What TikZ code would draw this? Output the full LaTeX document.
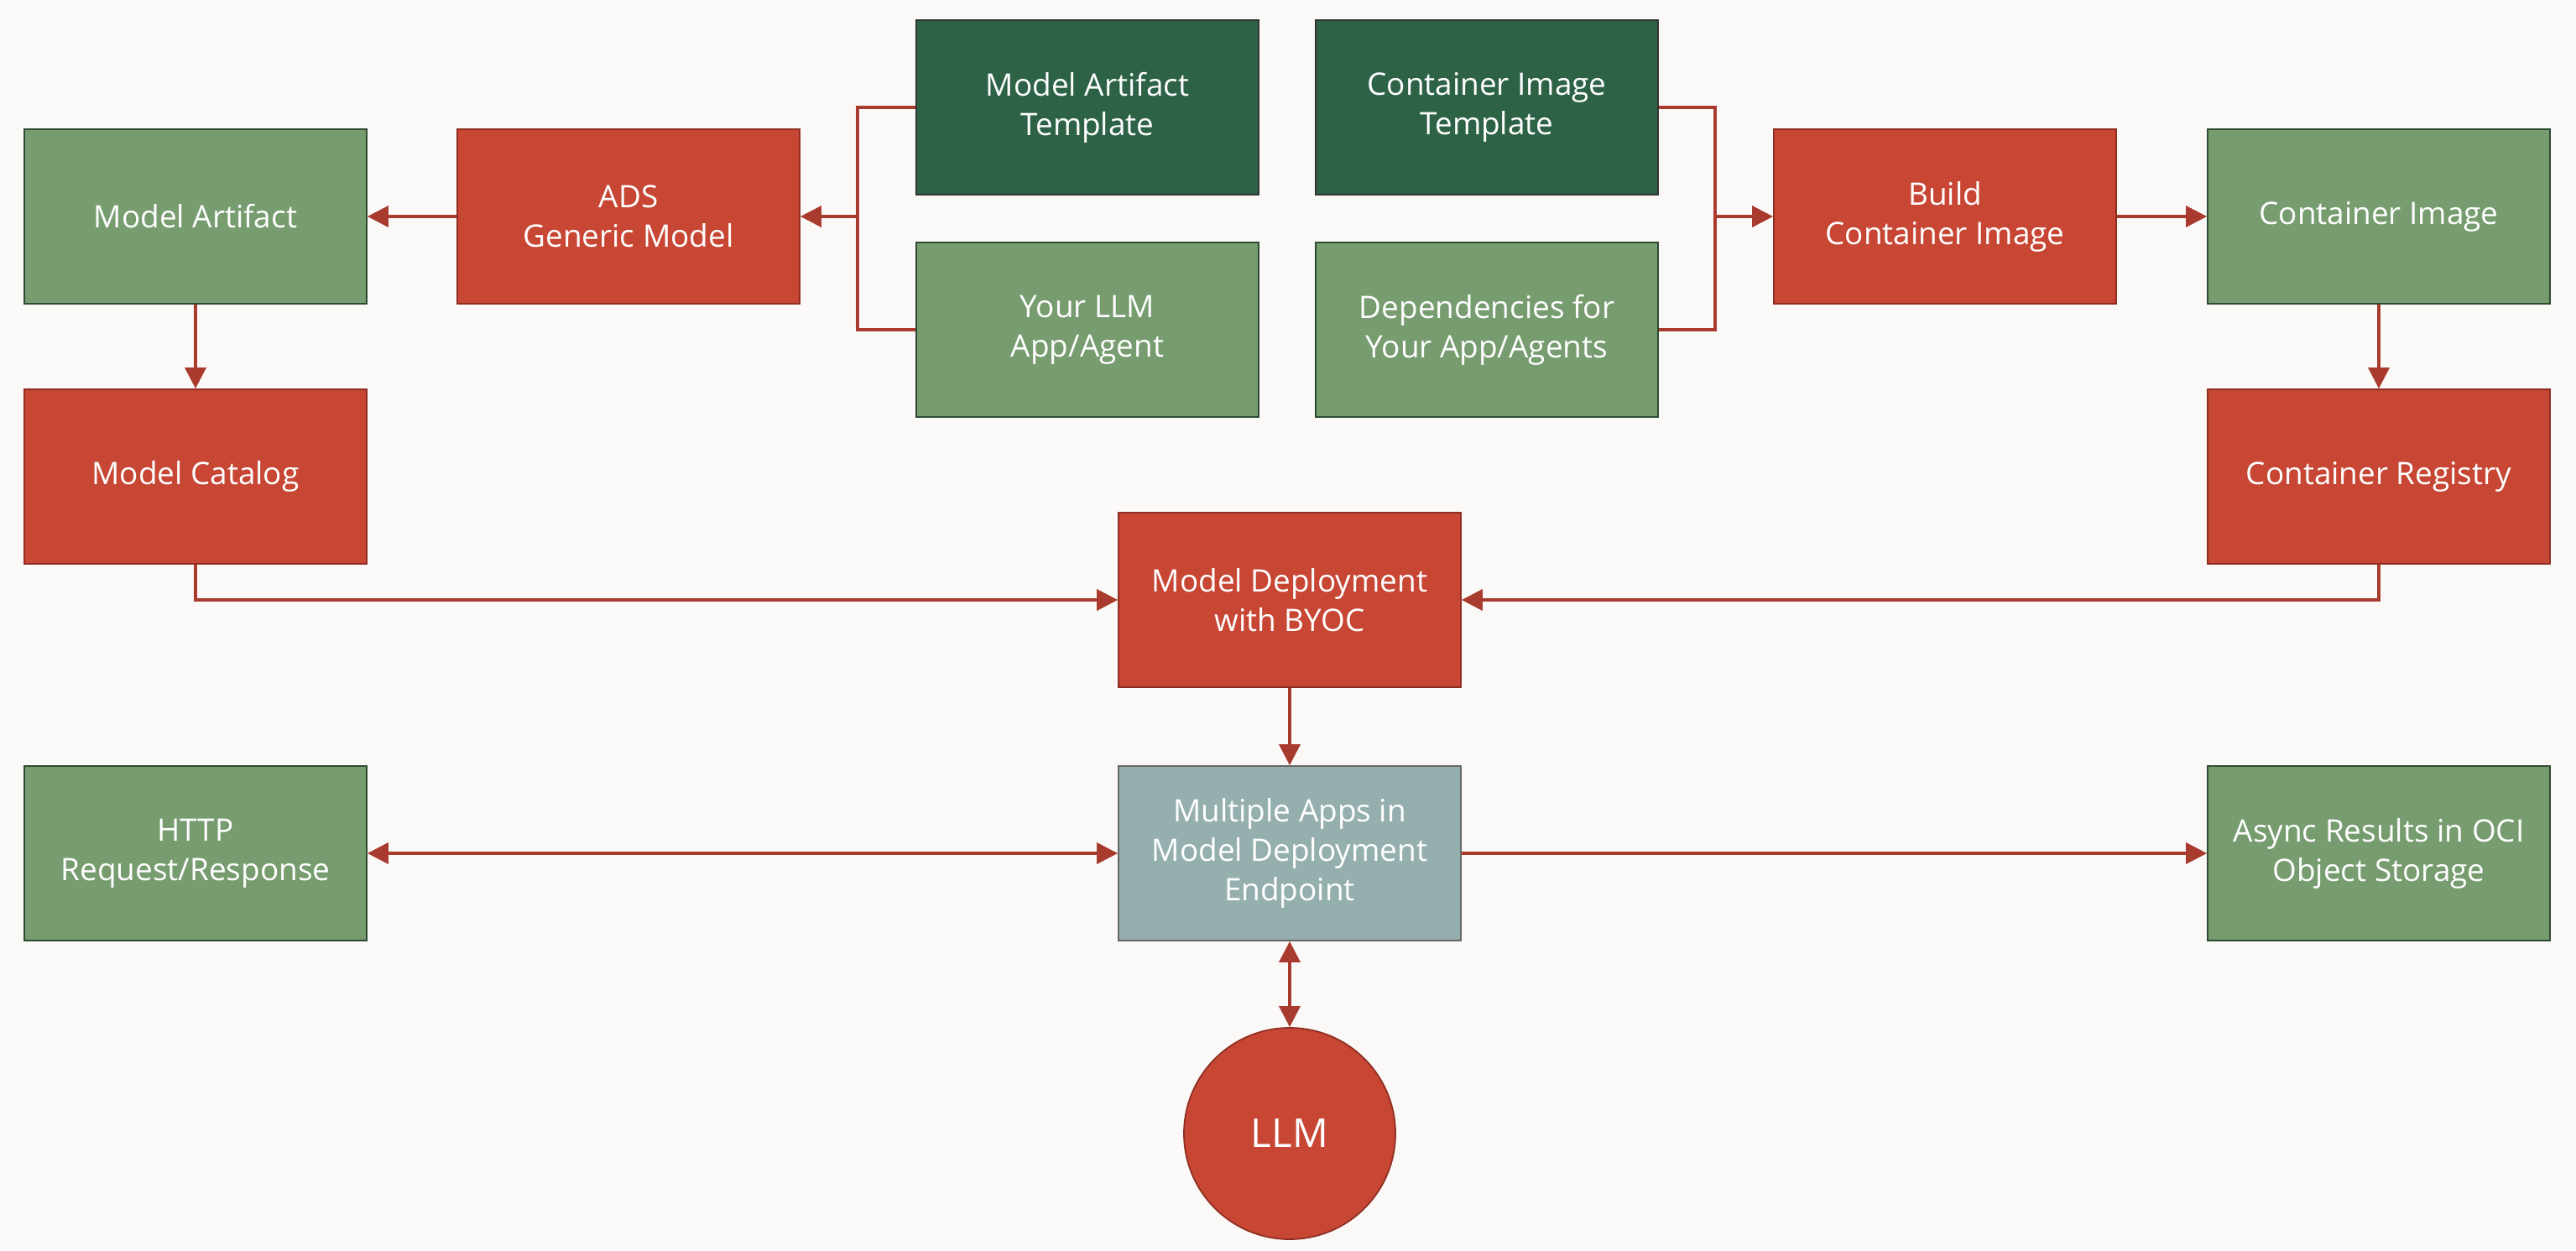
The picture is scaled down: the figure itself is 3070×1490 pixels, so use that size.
\documentclass[tikz,border=0pt]{standalone}
\usepackage{fontspec}
\setmainfont{Open Sans}
\usepackage{xcolor}
\usepackage{tikz}
\usetikzlibrary{shapes.geometric, arrows.meta}

\definecolor{bgcol}{HTML}{FBF9F7}
\definecolor{ocired}{HTML}{C74634}
\definecolor{redline}{HTML}{8E2E22}
\definecolor{darkgreen}{HTML}{2D6246}
\definecolor{lightgreen}{HTML}{769C6F}
\definecolor{greenline}{HTML}{2E4A32}
\definecolor{slate}{HTML}{95AFAF}
\definecolor{arrowred}{HTML}{A83A2E}

\tikzstyle{box} = [rectangle, minimum width=4.08cm, minimum height=2.08cm, align=center, text=white, font=\fontsize{10.5}{13.4}\selectfont, line width=0.5pt]
\tikzstyle{redbox} = [box, fill=ocired, draw=redline]
\tikzstyle{darkbox} = [box, fill=darkgreen, draw=black!80]
\tikzstyle{greenbox} = [box, fill=lightgreen, draw=greenline]
\tikzstyle{slatebox} = [box, fill=slate, draw=black!60]
\tikzstyle{line} = [line width=1pt, draw=arrowred]
\tikzstyle{arrow} = [line, -{Triangle[length=2.5mm,width=2.5mm]}]
\tikzstyle{dblarrow} = [line, {Triangle[length=2.5mm,width=2.5mm]}-{Triangle[length=2.5mm,width=2.5mm]}]

\begin{document}
\begin{tikzpicture}[x=0.1mm,y=-0.1mm]

	% Background:
	\fill [bgcol] (0,0) rectangle (3070,1490);
	\useasboundingbox (0,0) rectangle (3070,1490);

	% Top row:
	\node [greenbox] (artifact) at (233,258) {Model Artifact};
	\node [redbox] (ads) at (749,258) {ADS\\Generic Model};
	\node [darkbox] (arttemplate) at (1296,128) {Model Artifact\\Template};
	\node [greenbox] (llmapp) at (1296,393) {Your LLM\\App/Agent};
	\node [darkbox] (imgtemplate) at (1772,128) {Container Image\\Template};
	\node [greenbox] (deps) at (1772,393) {Dependencies for\\Your App/Agents};
	\node [redbox] (build) at (2318,258) {Build\\Container Image};
	\node [greenbox] (image) at (2835,258) {Container Image};

	% Catalog and registry:
	\node [redbox] (catalog) at (233,568) {Model Catalog};
	\node [redbox] (registry) at (2835,568) {Container Registry};

	% Deployment:
	\node [redbox] (deploy) at (1537,715) {Model Deployment\\with BYOC};
	\node [slatebox] (endpoint) at (1537,1017) {Multiple Apps in\\Model Deployment\\Endpoint};
	\node [greenbox] (http) at (233,1017) {HTTP\\Request/Response};
	\node [greenbox] (async) at (2835,1017) {Async Results in OCI\\Object Storage};
	\node [circle, minimum size=2.52cm, fill=ocired, draw=redline, line width=0.5pt, text=white, font=\fontsize{13.5}{16}\selectfont] (llm) at (1537,1351) {LLM};

	% Joins:
	\coordinate (leftjoin) at (1022,258);
	\coordinate (rightjoin) at (2044,258);

	% Connectors:
	\draw [arrow] (ads.west) -- (artifact.east);
	\draw [line] (arttemplate.west) -| (leftjoin);
	\draw [line] (llmapp.west) -| (leftjoin);
	\draw [arrow] (leftjoin) -- (ads.east);
	\draw [line] (imgtemplate.east) -| (rightjoin);
	\draw [line] (deps.east) -| (rightjoin);
	\draw [arrow] (rightjoin) -- (build.west);
	\draw [arrow] (build.east) -- (image.west);
	\draw [arrow] (artifact.south) -- (catalog.north);
	\draw [arrow] (image.south) -- (registry.north);
	\draw [arrow] (catalog.south) |- (deploy.west);
	\draw [arrow] (registry.south) |- (deploy.east);
	\draw [arrow] (deploy.south) -- (endpoint.north);
	\draw [dblarrow] (http.east) -- (endpoint.west);
	\draw [arrow] (endpoint.east) -- (async.west);
	\draw [dblarrow] (endpoint.south) -- (llm.north);

\end{tikzpicture}
\end{document}
